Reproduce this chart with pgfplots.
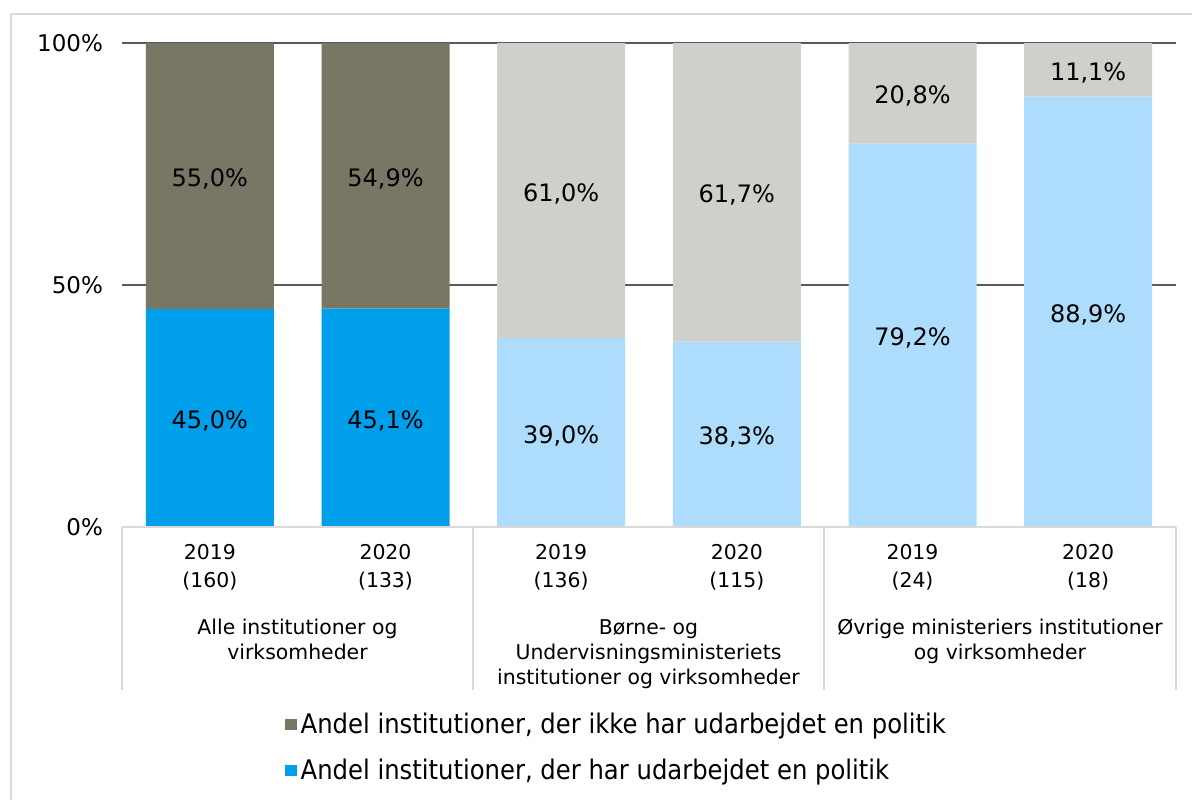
\documentclass[border=0pt]{standalone}
\usepackage{fontspec}
\setmainfont{DejaVu Sans}
\newfontfamily\legfont[FakeStretch=0.9]{DejaVu Sans}
\usepackage{pgfplots}
\pgfplotsset{compat=1.18}

\definecolor{dgray}{HTML}{787664}
\definecolor{lgray}{HTML}{D0CFCA}
\definecolor{dblue}{HTML}{009FEC}
\definecolor{lblue}{HTML}{ADDCFD}
\definecolor{gridc}{HTML}{595959}
\definecolor{framec}{HTML}{D9D9D9}

\pgfplotsset{
  base/.style={
    at={(0pt,0pt)}, anchor=south west,
    scale only axis, width=527pt, height=242pt,
    xmin=-0.5, xmax=5.5, ymin=0, ymax=100,
    clip=false,
  }
}

\begin{document}
\begin{tikzpicture}
\begin{axis}[
  base,
  ybar stacked, bar width=64pt,
  axis line style={draw=none},
  major tick length=0pt,
  ytick={0,50,100}, yticklabels={0\%,50\%,100\%},
  ymajorgrids, grid style={gridc, line width=1pt},
  yticklabel style={font=\fontsize{11.5}{13}\selectfont, xshift=-6pt},
  xtick={0,1,2,3,4,5},
  xticklabels={{2019\\(160)},{2020\\(133)},{2019\\(136)},{2020\\(115)},{2019\\(24)},{2020\\(18)}},
  xticklabel style={font=\fontsize{10.2}{14}\selectfont, align=center, yshift=-5pt},
  reverse legend,
  legend style={at={(0.149,-0.367)}, anchor=north west, draw=none,
    font=\legfont\fontsize{13.5}{15}\selectfont, row sep=7pt,
    /tikz/every even column/.append style={column sep=1pt}},
  legend cell align=left,
  legend image code/.code={\fill (0pt,-2.8pt) rectangle (5.6pt,2.8pt);},
]
\addplot[fill=dblue, draw=none] coordinates {(0,45.0)(1,45.1)(2,0)(3,0)(4,0)(5,0)};
\addlegendentry{Andel institutioner, der har udarbejdet en politik}
\addplot[fill=lblue, draw=none, forget plot] coordinates {(0,0)(1,0)(2,39.0)(3,38.3)(4,79.2)(5,88.9)};
\addplot[fill=dgray, draw=none] coordinates {(0,55.0)(1,54.9)(2,0)(3,0)(4,0)(5,0)};
\addlegendentry{Andel institutioner, der ikke har udarbejdet en politik}
\addplot[fill=lgray, draw=none, forget plot] coordinates {(0,0)(1,0)(2,61.0)(3,61.7)(4,20.8)(5,11.1)};
\end{axis}

\begin{axis}[base, hide axis]
\addplot[only marks, mark=none, nodes near coords, point meta=explicit symbolic,
  nodes near coords align=center,
  every node near coord/.append style={font=\fontsize{12}{14}\selectfont, text=black, yshift=-1.5pt}]
  coordinates {
    (0,22.5)[45,0\%] (1,22.55)[45,1\%] (2,19.5)[39,0\%] (3,19.15)[38,3\%] (4,39.6)[79,2\%] (5,44.45)[88,9\%]
    (0,72.5)[55,0\%] (1,72.55)[54,9\%] (2,69.5)[61,0\%] (3,69.15)[61,7\%] (4,89.6)[20,8\%] (5,94.45)[11,1\%]
  };
\end{axis}

% category box and outer frame
\draw[framec, line width=0.8pt] (0pt,0pt) -- (527pt,0pt);
\foreach \xx in {0,175.5,351,527} {
  \draw[framec, line width=0.8pt] (\xx pt,0pt) -- (\xx pt,-81.5pt);
}
\draw[framec, line width=1pt] (-55.5pt,-140pt) -- (-55.5pt,256.5pt) -- (540pt,256.5pt);

\begin{scope}[every node/.style={anchor=north, align=center, inner sep=0pt,
    font=\fontsize{10.2}{12.5}\selectfont}]
\node at (87.75pt,-46pt) {Alle institutioner og\\virksomheder};
\node at (263.25pt,-46pt) {Børne- og\\Undervisningsministeriets\\institutioner og virksomheder};
\node at (439pt,-46pt) {Øvrige ministeriers institutioner\\og virksomheder};
\end{scope}

\pgfresetboundingbox
\path (-61pt,-136pt) rectangle (535pt,263.5pt);
\end{tikzpicture}
\end{document}
